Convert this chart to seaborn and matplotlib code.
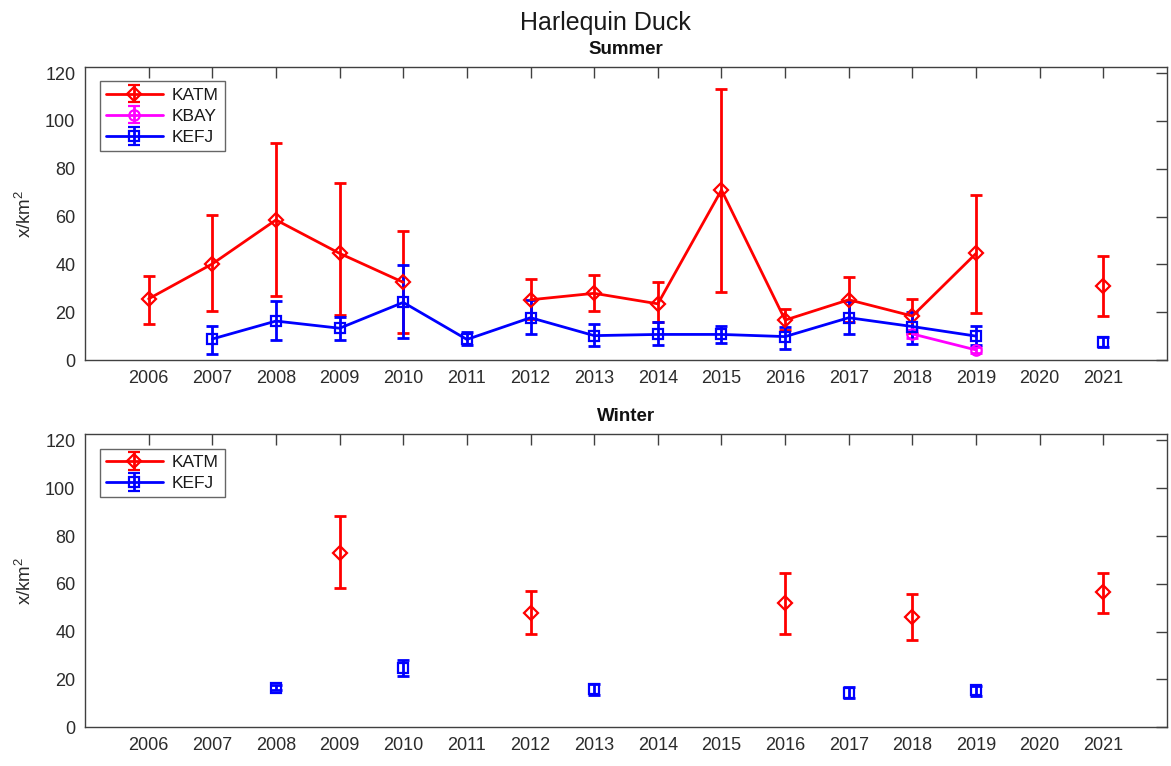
import numpy as np
import pandas as pd
import matplotlib
matplotlib.use("Agg")
import matplotlib.pyplot as plt
import seaborn as sns

nan = np.nan
years = list(range(2006, 2022))

# Summer densities (birds per km^2) with lower / upper confidence limits
summer_katm_mean = [25.6, 40.2, 58.6, 44.6, 32.5, nan, 25.2, 27.9, 23.5, 71.1, 16.7, 25.2, 18.4, 44.6, nan, 31.1]
summer_katm_lo = [15.0, 20.5, 26.7, 18.8, 11.4, nan, 17.0, 20.6, 16.0, 28.6, 12.6, 16.0, 11.2, 19.8, nan, 18.4]
summer_katm_hi = [35.2, 60.7, 90.6, 74.1, 54.1, nan, 33.8, 35.5, 32.8, 113.2, 21.2, 34.6, 25.5, 69.0, nan, 43.5]

summer_kbay_mean = [nan] * 12 + [10.9, 4.2, nan, nan]
summer_kbay_lo = [nan] * 12 + [9.2, 3.0, nan, nan]
summer_kbay_hi = [nan] * 12 + [12.6, 5.4, nan, nan]

summer_kefj_mean = [nan, 8.8, 16.3, 13.3, 24.1, 8.6, 17.7, 10.2, 10.7, 10.7, 9.8, 17.7, 14.0, 10.0, nan, 7.4]
summer_kefj_lo = [nan, 2.5, 8.4, 8.4, 9.1, 6.2, 10.7, 5.9, 6.3, 7.0, 4.5, 10.9, 6.7, 6.3, nan, 5.3]
summer_kefj_hi = [nan, 14.4, 24.8, 18.1, 39.7, 11.6, 25.2, 15.1, 15.8, 14.4, 14.0, 24.8, 19.9, 14.4, nan, 9.5]

# Winter densities
winter_katm_mean = [nan, nan, nan, 73.0, nan, nan, 48.0, nan, nan, nan, 51.9, nan, 46.1, nan, nan, 56.4]
winter_katm_lo = [nan, nan, nan, 58.1, nan, nan, 38.9, nan, nan, nan, 38.9, nan, 36.5, nan, nan, 48.0]
winter_katm_hi = [nan, nan, nan, 88.5, nan, nan, 57.1, nan, nan, nan, 64.5, nan, 55.8, nan, nan, 64.5]

winter_kefj_mean = [nan, nan, 16.6, nan, 24.7, nan, nan, 16.2, nan, nan, nan, 14.5, nan, 15.4, nan, nan]
winter_kefj_lo = [nan, nan, 15.5, nan, 21.5, nan, nan, 13.6, nan, nan, nan, 12.4, nan, 13.1, nan, nan]
winter_kefj_hi = [nan, nan, 17.7, nan, 28.2, nan, nan, 18.1, nan, nan, nan, 16.7, nan, 17.3, nan, nan]

sns.set_style("white")
plt.rcParams["font.family"] = ["Liberation Sans", "DejaVu Sans"]
plt.rcParams["mathtext.default"] = "regular"

AXIS_COLOR = "#404040"
TEXT_COLOR = "#2b2b2b"
STYLE = {
    "KATM": dict(color=(1, 0, 0), marker="D", ms=7.5),
    "KBAY": dict(color=(1, 0, 1), marker="o", ms=7.5),
    "KEFJ": dict(color=(0, 0, 1), marker="s", ms=6.5),
}
LW = 2.0
CAP = 4.0


def draw_series(ax, site, mean, lo, hi):
    st = STYLE[site]
    df = pd.DataFrame({"year": years, "value": mean, "lo": lo, "hi": hi}).dropna()
    # consecutive years form one connected segment; gaps break the line
    df["segment"] = (df["year"].diff() != 1).cumsum()
    ax.errorbar(df["year"], df["value"],
                yerr=[df["value"] - df["lo"], df["hi"] - df["value"]],
                fmt="none", ecolor=st["color"], elinewidth=LW,
                capsize=CAP, capthick=LW, zorder=2)
    sns.lineplot(data=df, x="year", y="value", units="segment", estimator=None,
                 color=st["color"], marker=st["marker"], markersize=st["ms"],
                 markerfacecolor="none", markeredgecolor=st["color"],
                 markeredgewidth=1.6, linewidth=LW, legend=False, ax=ax, zorder=3)


def legend_handle(ax, site):
    st = STYLE[site]
    return ax.errorbar([nan], [nan], yerr=[[1], [1]], color=st["color"],
                       marker=st["marker"], ms=st["ms"], mfc="none",
                       mec=st["color"], mew=1.6, lw=LW, elinewidth=LW,
                       capsize=CAP, capthick=LW, label=site)


def style_axes(ax, title):
    ax.set_xlim(2005, 2022)
    ax.set_ylim(0, 122.7)
    ax.set_xticks(years)
    ax.set_xticklabels([str(y) for y in years])
    ax.set_yticks(range(0, 121, 20))
    ax.tick_params(direction="in", length=8, width=1, top=True, right=True,
                   labelsize=13, color=AXIS_COLOR, labelcolor=TEXT_COLOR, pad=7)
    for sp in ax.spines.values():
        sp.set_color(AXIS_COLOR)
        sp.set_linewidth(1.0)
    ax.set_xlabel("")
    ax.set_ylabel("x/km$^2$", fontsize=13.5, color=TEXT_COLOR, labelpad=7)
    ax.set_title(title, fontsize=13.5, fontweight="bold", pad=9, color="#111111")


fig = plt.figure(figsize=(11.71, 7.66), dpi=100)
ax_top = fig.add_axes([0.0726, 0.530, 0.924, 0.383])
ax_bot = fig.add_axes([0.0726, 0.0505, 0.924, 0.383])

draw_series(ax_top, "KATM", summer_katm_mean, summer_katm_lo, summer_katm_hi)
draw_series(ax_top, "KBAY", summer_kbay_mean, summer_kbay_lo, summer_kbay_hi)
draw_series(ax_top, "KEFJ", summer_kefj_mean, summer_kefj_lo, summer_kefj_hi)

draw_series(ax_bot, "KATM", winter_katm_mean, winter_katm_lo, winter_katm_hi)
draw_series(ax_bot, "KEFJ", winter_kefj_mean, winter_kefj_lo, winter_kefj_hi)

style_axes(ax_top, "Summer")
style_axes(ax_bot, "Winter")

for ax, sites in ((ax_top, ["KATM", "KBAY", "KEFJ"]), (ax_bot, ["KATM", "KEFJ"])):
    handles = [legend_handle(ax, s) for s in sites]
    leg = ax.legend(handles=handles, loc="upper left", fontsize=12.5,
                    frameon=True, fancybox=False, edgecolor=AXIS_COLOR,
                    handlelength=3.3, handletextpad=0.5, borderpad=0.35,
                    labelspacing=0.35, borderaxespad=0.85)
    leg.get_frame().set_linewidth(1.0)
    for t in leg.get_texts():
        t.set_color("#1a1a1a")

fig.text(0.517, 1 - 30 / 766, "Harlequin Duck", ha="center", va="baseline",
         fontsize=18, color="#1a1a1a")

fig.savefig("out.png", dpi=100, facecolor="white")
